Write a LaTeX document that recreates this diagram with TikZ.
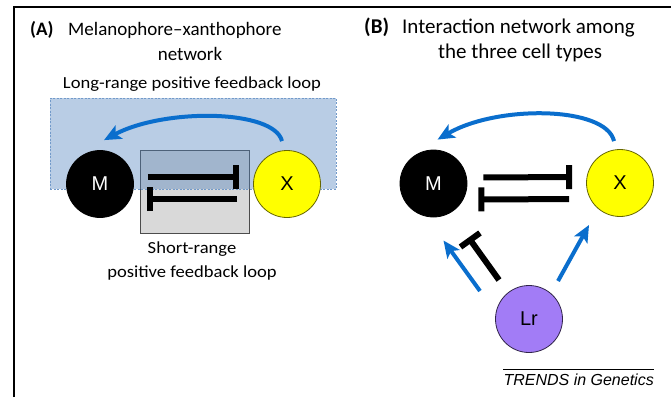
\documentclass[tikz,border=0pt]{standalone}
\usepackage{fontspec}
\setmainfont{Carlito}
\newfontfamily\lblfont{Carlito}[FakeStretch=1.1]
\newfontfamily\helv{Liberation Sans}
\usetikzlibrary{arrows.meta}
\definecolor{arrblue}{RGB}{10,110,205}
\definecolor{cellyellow}{RGB}{255,255,0}
\definecolor{cellpurple}{RGB}{162,124,246}
\definecolor{rectblue}{RGB}{79,129,189}
\definecolor{rectgray}{RGB}{217,217,217}
\tikzset{
  titleA/.style={font=\fontsize{19}{22}\selectfont, inner sep=0pt},
  titleB/.style={font=\fontsize{21}{24}\selectfont, inner sep=0pt},
  lbl/.style={font=\lblfont\fontsize{16.9}{19}\selectfont, inner sep=0pt},
  cell/.style={circle, minimum size=67pt, inner sep=0pt, line width=0.8pt, font=\helv\fontsize{20}{22}\selectfont},
  mcell/.style={cell, fill=black, draw=black, text=white},
  xcell/.style={cell, fill=cellyellow, draw=black!60!cellyellow},
  lcell/.style={cell, fill=cellpurple, draw=black!70!cellpurple},
  inhib/.style={line width=6pt, -{Bar[width=24pt]}},
  act/.style={draw=arrblue, line width=4pt, -{Stealth[length=17pt,width=15pt,inset=4pt]}},
}
\begin{document}
\begin{tikzpicture}[x=1pt,y=-1pt]
\useasboundingbox (0,0) rectangle (671,397);
% frame
\coordinate (fa) at (14,397);
\coordinate (fb) at (14,7);
\coordinate (fc) at (671,7);
\draw[line width=1.4pt] (fa) -- (fb) -- (fc);

% ---------- Panel A ----------
\node[titleA, anchor=base west, font=\fontsize{19}{22}\selectfont\bfseries] (tA) at (30,35) {(A)};
\node[titleA, anchor=base west] (tA1) at (68,35) {Melanophore–xanthophore};
\node[titleA, anchor=base] (tA2) at (190,60) {network};
\node[lbl, anchor=base] (long) at (192,88) {Long-range positive feedback loop};

\node[draw=black!70, line width=0.8pt, fill=rectgray, minimum width=109pt, minimum height=83pt, inner sep=0pt] (srect) at (194.5,191.5) {};
\node[draw=rectblue!80!white, dashed, dash pattern=on 2pt off 1.5pt, line width=0.8pt, fill=rectblue, fill opacity=0.4, draw opacity=1, minimum width=286pt, minimum height=91pt, inner sep=0pt] (lrect) at (193,143.5) {};

\node[mcell] (MA) at (100,184) {M};
\node[xcell] (XA) at (287,184) {X};

\draw[inhib, shorten <=14pt, shorten >=14pt] ([yshift=7pt]MA.east) -- ([yshift=7pt]XA.west);
\draw[inhib, shorten <=16pt, shorten >=13pt] ([yshift=-15pt]XA.west) -- ([yshift=-15pt]MA.east);

\draw[act] ([shift={(-5,-9)}]XA.north) .. controls +(-8,-32) and +(60,-32) .. ([shift={(4,-10)}]MA.north);

\node[lbl, anchor=base] (sr1) at (192,253) {Short-range};
\node[lbl, anchor=base] (sr2) at (192,277) {positive feedback loop};

% ---------- Panel B ----------
\node[titleB, anchor=base west, font=\fontsize{21}{24}\selectfont\bfseries] (tB) at (364,33) {(B)};
\node[titleB, anchor=base west] (tB1) at (402,33) {Interaction network among};
\node[titleB, anchor=base] (tB2) at (520,58) {the three cell types};

\node[mcell] (MB) at (433.5,183.5) {M};
\node[xcell] (XB) at (620,183) {X};
\node[lcell] (LB) at (529,319) {Lr};

\draw[inhib, shorten <=16pt, shorten >=14pt] ([yshift=6pt]MB.east) -- ([yshift=6pt]XB.west);
\draw[inhib, shorten <=17pt, shorten >=11pt] ([yshift=-16pt]XB.west) -- ([yshift=-16pt]MB.east);

\draw[act] ([shift={(-6,-8)}]XB.north) .. controls +(-8,-35) and +(60,-35) .. ([shift={(4,-10)}]MB.north);

\draw[act] ([shift={(-49,-28)}]LB.center) -- ([shift={(10,57)}]MB.center);
\draw[inhib] ([shift={(-30,-39)}]LB.center) -- ([shift={(35,54)}]MB.center);
\draw[act] ([shift={(29,-38)}]LB.center) -- ([shift={(-31,42)}]XB.center);

\node[inner sep=0pt, anchor=base east, font=\helv\itshape\fontsize{16}{18}\selectfont] (trends) at (654,385) {TRENDS in Genetics};
\draw[line width=0.8pt] ([yshift=16pt]trends.base west) -- ([yshift=16pt]trends.base east);
\end{tikzpicture}
\end{document}
